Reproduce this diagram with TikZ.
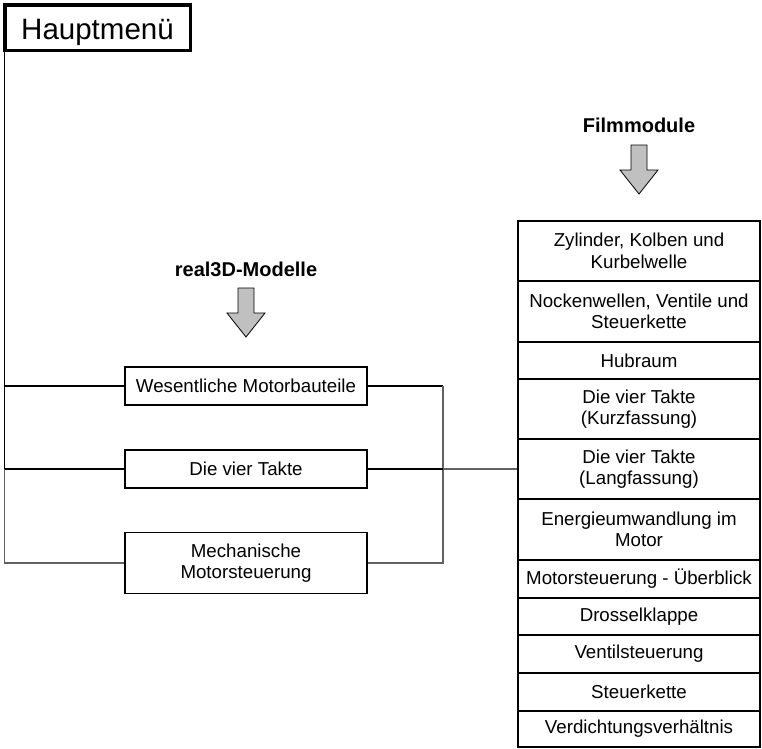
\documentclass[tikz,border=0pt]{standalone}
\usepackage{fontspec}
\setmainfont{Liberation Sans}
\definecolor{arrowgray}{HTML}{C0C0C0}
\begin{document}
\begin{tikzpicture}[x=1pt,y=-1pt,
  box/.style={draw, line width=1.1pt, minimum width=242pt, inner sep=0pt,
    align=center, fill=white, font=\fontsize{18.7}{21.5}\selectfont},
  mainbox/.style={draw, line width=3.5pt, minimum width=185.5pt, minimum height=45.5pt,
    inner sep=0pt, text height=24pt, text depth=0pt, font=\fontsize{29.5}{34}\selectfont},
  heading/.style={font=\fontsize{20}{24}\selectfont\bfseries, inner sep=0pt, anchor=base},
  conn/.style={line width=1.1pt},
  connlight/.style={line width=1.3pt, draw=black!62},
  downarrow/.pic={\draw[fill=arrowgray, line width=0.8pt, line join=miter]
    (-8,0) -- (8,0) -- (8,25) -- (19,25) -- (0,49) -- (-19,25) -- (-8,25) -- cycle;}
]
\useasboundingbox (0,0) rectangle (762,748);

% main menu
\node[mainbox] (hm) at (97.5,27.5) {Hauptmenü};

% headings and arrows
\node[heading] (h3d) at (246,276) {real3D-Modelle};
\pic at (246,288) {downarrow};
\node[heading] (hfilm) at (639,132) {Filmmodule};
\pic at (639,145) {downarrow};

% middle boxes
\node[box, minimum height=38pt] (wes) at (246,386) {Wesentliche Motorbauteile};
\node[box, minimum height=38pt] (takte) at (246,469) {Die vier Takte};
\node[box, minimum height=61pt] (mech) at (246,563) {Mechanische\\Motorsteuerung};

% film modules
\node[box, minimum height=60pt] (f1) at (639,251) {Zylinder, Kolben und\\Kurbelwelle};
\node[box, minimum height=61pt] (f2) at (639,311.5) {Nockenwellen, Ventile und\\Steuerkette};
\node[box, minimum height=37pt] (f3) at (639,360.5) {Hubraum};
\node[box, minimum height=60pt] (f4) at (639,409) {Die vier Takte\\(Kurzfassung)};
\node[box, minimum height=60pt] (f5) at (639,469) {Die vier Takte\\(Langfassung)};
\node[box, minimum height=61pt] (f6) at (639,529.5) {Energieumwandlung im\\Motor};
\node[box, minimum height=38pt] (f7) at (639,579) {Motorsteuerung - Überblick};
\node[box, minimum height=37pt] (f8) at (639,616.5) {Drosselklappe};
\node[box, minimum height=38pt] (f9) at (639,654) {Ventilsteuerung};
\node[box, minimum height=38pt] (f10) at (639,692) {Steuerkette};
\node[box, minimum height=36pt] (f11) at (639,729) {Verdichtungsverhältnis};

% connectors
\coordinate (L) at (4.5,0);
\coordinate (R) at (443,0);
\draw[conn] (hm.south -| L) -- (takte.west -| L);
\draw[connlight] (takte.west -| L) -- (mech.west -| L) -- (mech.west);
\draw[conn] (wes.west -| L) -- (wes.west);
\draw[conn] (takte.west -| L) -- (takte.west);
\draw[conn] (wes.east) -- (wes.east -| R);
\draw[connlight] (wes.east -| R) -- (mech.east -| R) -- (mech.east);
\draw[conn] (takte.east) -- (takte.east -| R);
\draw[connlight] (takte.east -| R) -- (f5.west);
\end{tikzpicture}
\end{document}
